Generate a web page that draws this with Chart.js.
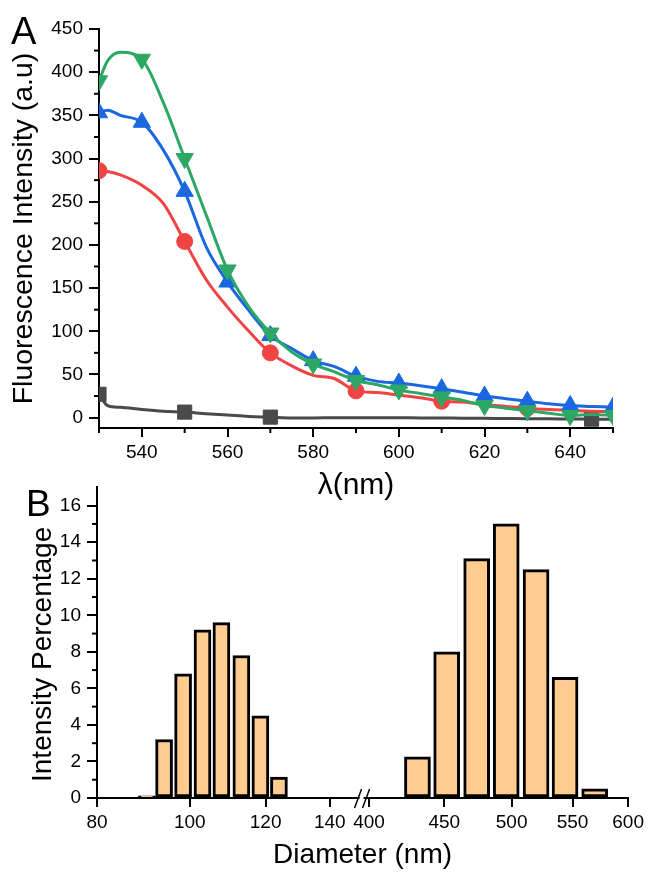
<!DOCTYPE html>
<html>
<head>
<meta charset="utf-8">
<script src="https://cdn.jsdelivr.net/npm/chart.js@4.4.0/dist/chart.umd.min.js"></script>
<style>
  html, body { margin: 0; padding: 0; background: #fff; }
  #wrap { position: relative; width: 648px; height: 873px; overflow: hidden; }
  canvas { position: absolute; left: 0; }
  #cA { top: 0; width: 648px; height: 510px; }
  #cB { top: 470px; width: 648px; height: 403px; }
  .panel { position: absolute; font-family: 'Liberation Sans', Arial, sans-serif; line-height: 1; color: #000; }
</style>
</head>
<body>
<div id="wrap">
  <canvas id="cA" width="648" height="510"></canvas>
  <canvas id="cB" width="648" height="403"></canvas>
  <div class="panel" style="left:11px;top:12px;font-size:38px">A</div>
  <div class="panel" style="left:26px;top:485px;font-size:37px">B</div>
</div>
<script>
// --- panel A: fluorescence spectra ---
const wavelength = [530, 532, 535, 540, 545, 550, 555, 560, 565, 570, 575, 580, 585,
                    590, 595, 600, 605, 610, 615, 620, 625, 630, 635, 640, 645, 650];
const greenIntensity = [390, 413, 423, 415, 365, 300, 235, 171, 128, 98, 76, 62, 53,
                        43, 38, 32, 28, 24, 20, 14, 11, 8, 5, 2.5, 3.5, 2.5];
const blueIntensity  = [353, 356, 350, 342, 310, 262, 198, 157, 124, 95, 80, 66, 59,
                        48, 42, 40, 37, 33.5, 29.5, 25, 22, 19, 16, 14, 13, 12];
const redIntensity   = [286, 285, 281, 269, 248, 204, 160, 128, 100, 75, 60, 49, 45,
                        31, 29, 26, 23, 19, 18, 15, 13, 11, 9.5, 8.4, 7.5, 7];
const greyIntensity  = [27, 14, 12, 9.5, 7.5, 6.4, 4.5, 3, 1.4, 0.6, -0.3, -0.3, 0,
                        0, 0, -0.2, -0.3, -0.5, -0.6, -0.8, -1, -1.2, -1.4, -1.6, -1.8, -2];
const greenMarkers = [530, 540, 550, 560, 570, 580, 590, 600, 610, 620, 630, 640, 650];
const blueMarkers  = [530, 540, 550, 560, 570, 580, 590, 600, 610, 620, 630, 640, 650];
const redMarkers   = [530, 550, 570, 590, 610, 630];
const greyMarkers  = [530, 550, 570, 645];
const xMajorA = [540, 560, 580, 600, 620, 640];
const xMinorA = [530, 550, 570, 590, 610, 630, 650];
const yMajorA = [0, 50, 100, 150, 200, 250, 300, 350, 400, 450];
const yMinorA = [25, 75, 125, 175, 225, 275, 325, 375, 425];

// --- panel B: size distribution ---
const smallDiameter  = [90.2, 94.0, 98.4, 103.1, 107.9, 113.2, 118.5, 123.9];
const smallIntensity = [0.12, 3.2, 6.8, 9.2, 9.6, 7.8, 4.5, 1.15];
const largeDiameter  = [431.5, 451.7, 473.4, 495.8, 519.5, 543.6, 569.4];
const largeIntensity = [2.25, 8.0, 13.1, 15.0, 12.5, 6.6, 0.5];
const yMajorB = [0, 2, 4, 6, 8, 10, 12, 14, 16];
const yMinorB = [1, 3, 5, 7, 9, 11, 13, 15];
const xTicksSmall = [80, 100, 120, 140];
const xTicksLarge = [400, 450, 500, 550, 600];

const FONT = "'Liberation Sans', Arial, sans-serif";
Chart.defaults.font.family = FONT;
Chart.defaults.color = '#000';

// short minor tick marks on the outside of an axis
const minorTicks = {
  id: 'minorTicks',
  afterDraw(chart, args, opts) {
    const ctx = chart.ctx;
    ctx.save();
    ctx.strokeStyle = '#000';
    ctx.lineWidth = 2;
    (opts.items || []).forEach(item => {
      const s = chart.scales[item.scale];
      item.values.forEach(v => {
        const p = s.getPixelForValue(v);
        ctx.beginPath();
        if (s.isHorizontal()) { ctx.moveTo(p, s.top); ctx.lineTo(p, s.top + item.length); }
        else { ctx.moveTo(s.right, p); ctx.lineTo(s.right - item.length, p); }
        ctx.stroke();
      });
    });
    ctx.restore();
  }
};

// the "//" mark where the two diameter axes meet
const axisBreak = {
  id: 'axisBreak',
  afterDraw(chart) {
    const s = chart.scales.xL, ctx = chart.ctx;
    const x = s.right, y = s.top;
    ctx.save();
    ctx.fillStyle = '#fff';
    ctx.fillRect(x - 3, y - 2, 4, 4);
    ctx.strokeStyle = '#000';
    ctx.lineWidth = 1.5;
    [[-8, -1], [0, 7]].forEach(([a, b]) => {
      ctx.beginPath();
      ctx.moveTo(x + a, y + 10);
      ctx.lineTo(x + b, y - 9);
      ctx.stroke();
    });
    ctx.restore();
  }
};

function spectrum(values, markers, color, style, radius, rotation) {
  return {
    data: wavelength.map((x, i) => ({ x, y: values[i] })),
    borderColor: color,
    backgroundColor: color,
    borderWidth: 3,
    cubicInterpolationMode: 'monotone',
    pointStyle: style,
    pointRotation: rotation || 0,
    pointRadius: wavelength.map(x => markers.includes(x) ? radius : 0),
    pointHoverRadius: 0,
    pointBorderWidth: 1,
    pointBorderColor: color
  };
}

const axisGrid = len => ({ drawOnChartArea: false, tickLength: len, lineWidth: 2, tickWidth: 2, tickColor: '#000', color: '#000' });
const axisBorder = { color: '#000', width: 2 };

new Chart(document.getElementById('cA'), {
  type: 'line',
  data: {
    datasets: [
      spectrum(greenIntensity, greenMarkers, '#2DA864', 'triangle', 10, 180),
      spectrum(blueIntensity, blueMarkers, '#1B67DF', 'triangle', 10, 0),
      spectrum(redIntensity, redMarkers, '#F04444', 'circle', 8, 0),
      spectrum(greyIntensity, greyMarkers, '#4A4A4A', 'rect', 10, 0)
    ]
  },
  options: {
    responsive: false,
    animation: false,
    layout: { padding: { top: 29, right: 35, left: 0, bottom: 0 } },
    plugins: {
      legend: { display: false },
      tooltip: { enabled: false },
      minorTicks: { items: [
        { scale: 'x', values: xMinorA, length: 5 },
        { scale: 'y', values: yMinorA, length: 5 }
      ] }
    },
    scales: {
      x: {
        type: 'linear', min: 530, max: 650,
        afterBuildTicks: s => { s.ticks = xMajorA.map(v => ({ value: v })); },
        afterFit: s => { s.height = 82; },
        grid: axisGrid(9),
        border: axisBorder,
        ticks: { font: { size: 19 }, padding: 4, maxRotation: 0, autoSkip: false },
        title: { display: true, text: 'λ(nm)', font: { size: 30 }, padding: { top: 0, bottom: 6 } }
      },
      y: {
        min: -12, max: 450,
        afterBuildTicks: s => { s.ticks = yMajorA.map(v => ({ value: v })); },
        afterFit: s => { s.width = 99; },
        grid: axisGrid(10),
        border: axisBorder,
        ticks: { font: { size: 19 }, padding: 6, autoSkip: false },
        title: { display: true, text: 'Fluorescence Intensity (a.u)', font: { size: 28.5 }, padding: { top: 7 } }
      }
    }
  },
  plugins: [minorTicks]
});

function bars(axisId, diam, inten, width) {
  return {
    xAxisID: axisId,
    yAxisID: 'y',
    grouped: false,
    data: diam.map((x, i) => ({ x, y: inten[i] })),
    backgroundColor: '#FFCC90',
    borderColor: '#000',
    borderWidth: 3,
    borderSkipped: false,
    barThickness: width
  };
}

const diamAxis = (min, max, ticks) => ({
  type: 'logarithmic', position: 'bottom', stack: 'diam', stackWeight: 1,
  min, max, offset: false,
  afterBuildTicks: s => { s.ticks = ticks.map(v => ({ value: v })); },
  afterFit: s => { s.height = 40.4; },
  grid: Object.assign(axisGrid(9), { offset: false }),
  border: axisBorder,
  ticks: { font: { size: 19 }, padding: 4, maxRotation: 0, autoSkip: false, callback: v => String(v) }
});

new Chart(document.getElementById('cB'), {
  type: 'bar',
  data: {
    datasets: [
      bars('xL', smallDiameter, smallIntensity, 17),
      bars('xR', largeDiameter, largeIntensity, 26)
    ]
  },
  options: {
    responsive: false,
    animation: false,
    layout: { padding: { top: 16, right: 19, left: 0, bottom: 0 } },
    plugins: {
      legend: { display: false },
      tooltip: { enabled: false },
      title: {
        display: true, text: 'Diameter (nm)', position: 'bottom', fullSize: false,
        font: { size: 28, weight: 'normal' }, padding: { top: 0, bottom: 1 }, color: '#000'
      },
      minorTicks: { items: [ { scale: 'y', values: yMinorB, length: 5 } ] }
    },
    scales: {
      xL: diamAxis(80, 151.5, xTicksSmall),
      xR: diamAxis(396, 600, xTicksLarge),
      y: {
        min: 0, max: 17,
        afterBuildTicks: s => { s.ticks = yMajorB.map(v => ({ value: v })); },
        afterFit: s => { s.width = 97; },
        grid: axisGrid(10),
        border: axisBorder,
        ticks: { font: { size: 19 }, padding: 6, autoSkip: false },
        // trailing spaces nudge the centred title down, clear of the "B"
        title: { display: true, text: 'Intensity Percentage\u00A0\u00A0\u00A0', font: { size: 28 }, padding: { top: 26 } }
      }
    }
  },
  plugins: [minorTicks, axisBreak]
});
</script>
</body>
</html>
